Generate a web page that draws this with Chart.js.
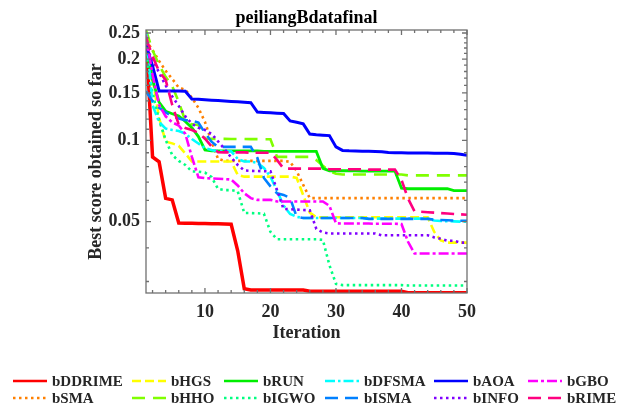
<!DOCTYPE html>
<html>
<head>
<meta charset="utf-8">
<script src="https://cdn.jsdelivr.net/npm/chart.js@4.4.1/dist/chart.umd.min.js"></script>
<style>
  html, body { margin: 0; padding: 0; background: #fff; }
</style>
</head>
<body>
<canvas id="myChart" width="619" height="411"></canvas>
<script>
/* 收敛曲线 - peiliangBdatafinal */
var iterations = Array.from({ length: 50 }, function (_, i) { return i + 1; });

var bDDRIME = [0.245, 0.0868, 0.0833, 0.0610, 0.0602, 0.0494, 0.0493, 0.0493, 0.0492, 0.0492,
  0.0491, 0.0491, 0.0490, 0.0489, 0.0390, 0.0282, 0.0279, 0.0279, 0.0279, 0.0279,
  0.0279, 0.0279, 0.0279, 0.0279, 0.0279, 0.0276, 0.0276, 0.0276, 0.0276, 0.0276,
  0.0276, 0.0276, 0.0276, 0.0276, 0.0276, 0.0276, 0.0276, 0.0276, 0.0276, 0.0276,
  0.02725, 0.02725, 0.02725, 0.02725, 0.02725, 0.02725, 0.02725, 0.02725, 0.02725, 0.02725];
var bSMA = [0.235, 0.216, 0.197, 0.181, 0.169, 0.157, 0.154, 0.144, 0.132, 0.117,
  0.099, 0.0854, 0.0840, 0.0840, 0.0840, 0.0840, 0.0840, 0.0840, 0.0840, 0.0840,
  0.0840, 0.0840, 0.0833, 0.0770, 0.0684, 0.0611, 0.0611, 0.0611, 0.0611, 0.0611,
  0.0611, 0.0611, 0.0611, 0.0611, 0.0611, 0.0611, 0.0611, 0.0611, 0.0611, 0.0611,
  0.0611, 0.0611, 0.0611, 0.0611, 0.0611, 0.0611, 0.0611, 0.0611, 0.0611, 0.0611];
var bHGS = [0.235, 0.170, 0.121, 0.099, 0.0975, 0.0955, 0.0895, 0.0835, 0.0835, 0.0835,
  0.0835, 0.0835, 0.0835, 0.0835, 0.0745, 0.0734, 0.0734, 0.0734, 0.0734, 0.0734,
  0.0734, 0.0734, 0.0734, 0.0726, 0.0627, 0.0540, 0.0519, 0.0519, 0.0519, 0.0519,
  0.0519, 0.0519, 0.0519, 0.0519, 0.0519, 0.0519, 0.0519, 0.0519, 0.0519, 0.0519,
  0.0519, 0.0519, 0.0519, 0.0519, 0.0458, 0.0426, 0.0418, 0.0418, 0.0418, 0.0418];
var bHHO = [0.256, 0.216, 0.190, 0.172, 0.159, 0.139, 0.118, 0.1147, 0.1140, 0.1015,
  0.1014, 0.1013, 0.1013, 0.1012, 0.1012, 0.1012, 0.1011, 0.1011, 0.1010, 0.1010,
  0.0869, 0.0869, 0.0869, 0.0869, 0.0869, 0.0869, 0.0845, 0.0805, 0.0770, 0.0752,
  0.0748, 0.0748, 0.0748, 0.0748, 0.0748, 0.0748, 0.0748, 0.0748, 0.0748, 0.0748,
  0.0742, 0.0742, 0.0742, 0.0742, 0.0742, 0.0742, 0.0742, 0.0742, 0.0742, 0.0742];
var bRUN = [0.220, 0.1675, 0.1385, 0.1283, 0.1255, 0.1232, 0.1175, 0.1115, 0.1033, 0.0922,
  0.0915, 0.0915, 0.0915, 0.0915, 0.0915, 0.0915, 0.0915, 0.0915, 0.0910, 0.0910,
  0.0910, 0.0910, 0.0910, 0.0910, 0.0910, 0.0910, 0.0910, 0.0788, 0.0772, 0.0772,
  0.0772, 0.0772, 0.0772, 0.0770, 0.0770, 0.0770, 0.0770, 0.0770, 0.0770, 0.0665,
  0.0662, 0.0662, 0.0662, 0.0662, 0.0662, 0.0662, 0.0662, 0.0652, 0.0652, 0.0652];
var bIGWO = [0.210, 0.150, 0.119, 0.1004, 0.0883, 0.0839, 0.0811, 0.0767, 0.0766, 0.0760,
  0.0732, 0.0661, 0.0654, 0.0654, 0.0648, 0.0538, 0.0538, 0.0537, 0.0535, 0.0458,
  0.0430, 0.0430, 0.0430, 0.0430, 0.0430, 0.0430, 0.0430, 0.0428, 0.0345, 0.0294,
  0.0291, 0.0291, 0.0291, 0.0291, 0.0291, 0.0291, 0.0291, 0.0291, 0.0291, 0.0291,
  0.0290, 0.0290, 0.0290, 0.0290, 0.0290, 0.0290, 0.0290, 0.0290, 0.0290, 0.0290];
var bDFSMA = [0.252, 0.135, 0.117, 0.1106, 0.1093, 0.1084, 0.106, 0.1012, 0.0974, 0.0937,
  0.0922, 0.0911, 0.0911, 0.0911, 0.0854, 0.0835, 0.0835, 0.0826, 0.0791, 0.0734,
  0.0651, 0.0573, 0.0534, 0.0521, 0.0516, 0.0516, 0.0516, 0.0516, 0.0516, 0.0516,
  0.0516, 0.0516, 0.0516, 0.0516, 0.0513, 0.0513, 0.0513, 0.0513, 0.0513, 0.0513,
  0.0513, 0.0513, 0.0513, 0.0513, 0.0505, 0.0503, 0.0502, 0.0501, 0.0500, 0.0500];
var bISMA = [0.152, 0.140, 0.132, 0.127, 0.123, 0.1205, 0.1189, 0.1185, 0.1164, 0.1066,
  0.0989, 0.0946, 0.0946, 0.0946, 0.0946, 0.0946, 0.0946, 0.0862, 0.0726, 0.0676,
  0.0637, 0.0628, 0.0612, 0.0521, 0.0516, 0.0516, 0.0516, 0.0516, 0.0516, 0.0516,
  0.0516, 0.0516, 0.0516, 0.0516, 0.0512, 0.0512, 0.0512, 0.0512, 0.0512, 0.0512,
  0.0512, 0.0512, 0.0512, 0.0512, 0.0508, 0.0507, 0.0506, 0.0505, 0.0504, 0.0504];
var bAOA = [0.226, 0.189, 0.1525, 0.1525, 0.1525, 0.1525, 0.1521, 0.1424, 0.1420, 0.1415,
  0.1410, 0.1405, 0.1400, 0.1395, 0.1390, 0.1385, 0.1380, 0.1274, 0.1270, 0.1266,
  0.1262, 0.1258, 0.1181, 0.1167, 0.1152, 0.1056, 0.1050, 0.1046, 0.1042, 0.0946,
  0.0918, 0.0915, 0.0914, 0.0912, 0.0911, 0.0910, 0.0908, 0.0902, 0.0900, 0.0900,
  0.0899, 0.0899, 0.0898, 0.0898, 0.0897, 0.0897, 0.0897, 0.0895, 0.0888, 0.0880];
var bINFO = [0.220, 0.200, 0.178, 0.160, 0.1456, 0.1342, 0.1227, 0.1153, 0.1114, 0.1093,
  0.1058, 0.0991, 0.0929, 0.0865, 0.0811, 0.0774, 0.0771, 0.0770, 0.0769, 0.0768,
  0.0655, 0.0557, 0.0556, 0.0554, 0.0552, 0.0551, 0.0470, 0.0456, 0.0452, 0.0452,
  0.0452, 0.0452, 0.0452, 0.0452, 0.0452, 0.0452, 0.0445, 0.0445, 0.0445, 0.0445,
  0.0445, 0.0445, 0.0445, 0.0445, 0.0437, 0.0432, 0.0425, 0.0425, 0.0418, 0.0418];
var bGBO = [0.245, 0.175, 0.1353, 0.1228, 0.1167, 0.1135, 0.1058, 0.0869, 0.0730, 0.0725,
  0.0723, 0.0721, 0.0719, 0.0716, 0.0681, 0.0637, 0.0611, 0.0602, 0.0602, 0.0602,
  0.0594, 0.0594, 0.0594, 0.0594, 0.0594, 0.0594, 0.0594, 0.0594, 0.0572, 0.0493,
  0.0492, 0.0492, 0.0492, 0.0492, 0.0492, 0.0491, 0.0491, 0.0491, 0.0491, 0.0490,
  0.0421, 0.0381, 0.0381, 0.0381, 0.0381, 0.0381, 0.0381, 0.0381, 0.0381, 0.0381];
var bRIME = [0.240, 0.205, 0.180, 0.1675, 0.1353, 0.1144, 0.1112, 0.1093, 0.1067, 0.1015,
  0.0951, 0.0904, 0.0903, 0.0903, 0.0903, 0.0903, 0.0900, 0.0900, 0.0900, 0.0900,
  0.0847, 0.0786, 0.0786, 0.0786, 0.0786, 0.0786, 0.0786, 0.0786, 0.0782, 0.0782,
  0.0782, 0.0782, 0.0782, 0.0782, 0.0779, 0.0779, 0.0779, 0.0779, 0.0779, 0.0714,
  0.0609, 0.0545, 0.0544, 0.0542, 0.0540, 0.0538, 0.0536, 0.0534, 0.0532, 0.0530];

// 刻度
var xTicks = [10, 20, 30, 40, 50];
var xMinorTicks = [2, 4, 6, 8, 12, 14, 16, 18, 22, 24, 26, 28, 32, 34, 36, 38, 42, 44, 46, 48];
var yTicks = [0.05, 0.1, 0.15, 0.2, 0.25];
var yMinorTicks = [0.03, 0.04, 0.06, 0.07, 0.08, 0.09, 0.11, 0.12, 0.13, 0.14,
  0.16, 0.17, 0.18, 0.19, 0.21, 0.22, 0.23, 0.24];

var serif = "'Liberation Serif', 'Times New Roman', serif";
var textColor = '#262626';

function series(label, data, color, width, dash) {
  return {
    label: label, data: data, borderColor: color, backgroundColor: color,
    borderWidth: width, borderDash: dash, fill: false, pointRadius: 0, tension: 0
  };
}

var dotted = [2.5, 3.5];
var datasets = [
  series('bDDRIME', bDDRIME, '#ff0000', 3.5, []),
  series('bSMA', bSMA, '#ff8000', 2.6, dotted),
  series('bHGS', bHGS, '#ffff00', 2.6, [9, 4]),
  series('bHHO', bHHO, '#80ff00', 2.6, [13, 8]),
  series('bRUN', bRUN, '#00ee00', 2.8, []),
  series('bIGWO', bIGWO, '#00ff80', 2.6, dotted),
  series('bDFSMA', bDFSMA, '#00ffff', 2.6, [10, 3, 2.5, 3]),
  series('bISMA', bISMA, '#0080ff', 2.6, [13, 7]),
  series('bAOA', bAOA, '#0000ff', 3, []),
  series('bINFO', bINFO, '#8000ff', 2.6, dotted),
  series('bGBO', bGBO, '#ff00ff', 2.6, [10, 3, 3, 3]),
  series('bRIME', bRIME, '#ff0080', 2.6, [13, 7])
];
// 后画的在上层
datasets.forEach(function (d, i) { d.order = datasets.length - i; });

// 图例列位置 (两行六列)
var legendTextX = [52, 171, 263, 364, 473, 567];
var legendRowY = [381, 398];

var matlabAxes = {
  id: 'matlabAxes',
  afterDatasetsDraw: function (chart) {
    var ctx = chart.ctx, a = chart.chartArea, x = chart.scales.x, y = chart.scales.y;
    ctx.save();
    ctx.strokeStyle = '#707070';
    ctx.lineWidth = 1.3;
    ctx.strokeRect(a.left, a.top, a.right - a.left, a.bottom - a.top);
    ctx.beginPath();
    function xt(v, len) {
      var px = x.getPixelForValue(v);
      ctx.moveTo(px, a.bottom); ctx.lineTo(px, a.bottom - len);
      ctx.moveTo(px, a.top); ctx.lineTo(px, a.top + len);
    }
    function yt(v, len) {
      var py = y.getPixelForValue(v);
      ctx.moveTo(a.left, py); ctx.lineTo(a.left + len, py);
      ctx.moveTo(a.right, py); ctx.lineTo(a.right - len, py);
    }
    xTicks.forEach(function (v) { xt(v, 5); });
    xMinorTicks.forEach(function (v) { xt(v, 3); });
    yTicks.forEach(function (v) { yt(v, 5); });
    yMinorTicks.forEach(function (v) { yt(v, 3); });
    ctx.stroke();
    ctx.restore();
  },
  afterDraw: function (chart) {
    var ctx = chart.ctx, a = chart.chartArea;
    ctx.save();
    // 标题
    ctx.fillStyle = '#000';
    ctx.font = 'bold 18px ' + serif;
    ctx.textAlign = 'center';
    ctx.textBaseline = 'middle';
    ctx.fillText('peiliangBdatafinal', (a.left + a.right) / 2, 18);
    // 图例
    ctx.font = 'bold 15px ' + serif;
    ctx.textAlign = 'left';
    chart.data.datasets.forEach(function (d, k) {
      var tx = legendTextX[Math.floor(k / 2)], ty = legendRowY[k % 2];
      ctx.strokeStyle = d.borderColor;
      ctx.lineWidth = Math.min(d.borderWidth, 2.6);
      ctx.setLineDash(d.borderDash);
      ctx.beginPath();
      ctx.moveTo(tx - 39, ty);
      ctx.lineTo(tx - 5, ty);
      ctx.stroke();
      ctx.setLineDash([]);
      ctx.fillStyle = textColor;
      ctx.fillText(d.label, tx, ty + 1);
    });
    ctx.restore();
  }
};

var ctx = document.getElementById('myChart').getContext('2d');
var myChart = new Chart(ctx, {
  type: 'line',
  data: { labels: iterations, datasets: datasets },
  plugins: [matlabAxes],
  options: {
    responsive: false,
    animation: false,
    layout: { padding: { left: 0, right: 152, top: 30, bottom: 67 } },
    plugins: {
      legend: { display: false },
      title: { display: false },
      tooltip: { enabled: false }
    },
    scales: {
      x: {
        type: 'linear', min: 1, max: 50,
        grid: { display: false, drawTicks: false },
        border: { display: false },
        afterBuildTicks: function (s) { s.ticks = xTicks.map(function (v) { return { value: v }; }); },
        afterFit: function (s) { s.height = 51; },
        ticks: { padding: 9, maxRotation: 0, color: textColor, font: { family: serif, size: 18, weight: 'bold' } },
        title: { display: true, text: 'Iteration', padding: 0, color: textColor,
          font: { family: serif, size: 18, weight: 'bold' } }
      },
      y: {
        type: 'logarithmic', min: 0.0272, max: 0.2565,
        grid: { display: false, drawTicks: false },
        border: { display: false },
        afterBuildTicks: function (s) { s.ticks = yTicks.map(function (v) { return { value: v }; }); },
        afterFit: function (s) { s.width = 146; },
        ticks: { padding: 6, color: textColor, font: { family: serif, size: 18, weight: 'bold' },
          callback: function (v) { return String(v); } },
        title: { display: true, text: 'Best score obtained so far', padding: { top: 86, bottom: 0 },
          color: textColor, font: { family: serif, size: 18, weight: 'bold' } }
      }
    }
  }
});
</script>
</body>
</html>
